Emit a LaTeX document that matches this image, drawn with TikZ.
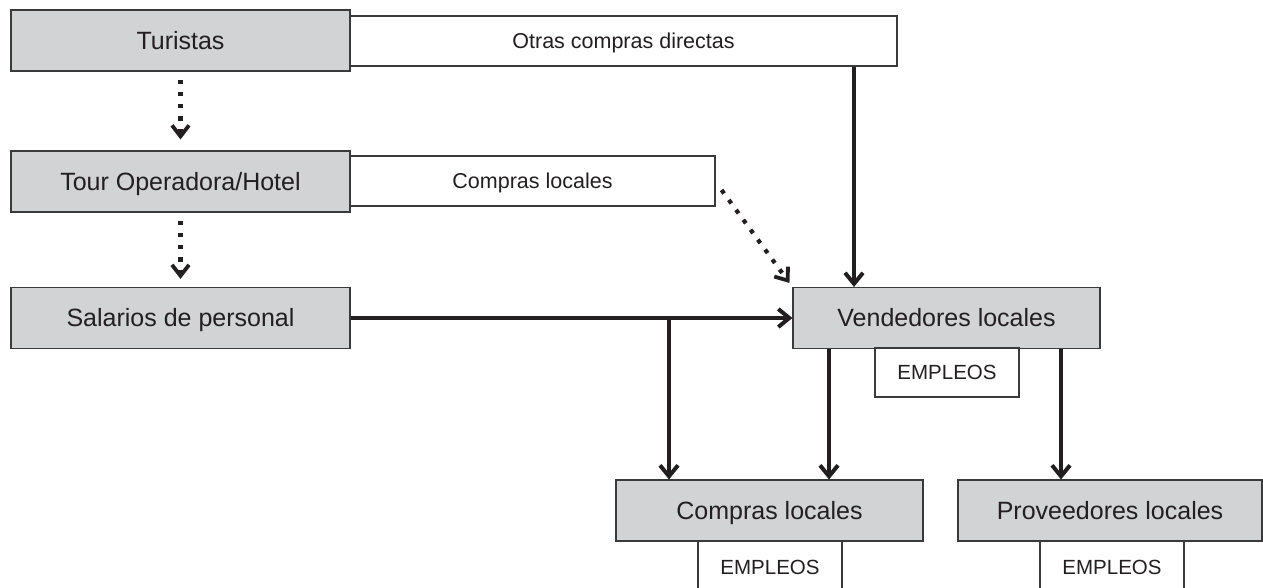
\documentclass[tikz,border=0pt]{standalone}
\usepackage{fontspec}
\setmainfont{Liberation Sans}
\usetikzlibrary{arrows.meta}
\definecolor{boxgray}{HTML}{D1D3D4}
\definecolor{edge}{HTML}{3A3A3A}
\definecolor{ink}{HTML}{231F20}
\tikzset{
  basebox/.style={draw=edge, line width=1.1pt, inner sep=0pt, text=ink,
    text depth=0pt},
  graybox/.style={basebox, fill=boxgray, font=\fontsize{25}{30}\selectfont,
    text height=17.9pt},
  whitebox/.style={basebox, fill=white, font=\fontsize{21.5}{26}\selectfont,
    text height=15.4pt},
  jobbox/.style={basebox, fill=white,
    minimum width=144pt, minimum height=49pt,
    font=\fontsize{20.5}{24}\selectfont, text height=14.7pt},
  arr/.style={draw=ink, line width=4pt,
    -{Straight Barb[length=11pt,width=18pt,line width=4pt]}},
  dotarr/.style={draw=ink, line width=4.2pt, dash pattern=on 4.3pt off 8pt,
    -{Straight Barb[length=11pt,width=17pt,line width=3.8pt]}},
}
\begin{document}
\begin{tikzpicture}[x=1pt,y=-1pt]
\useasboundingbox (0,0) rectangle (1263,587);
\clip (0,0) rectangle (1263,587);
% white side boxes (drawn first, behind gray boxes)
\node[whitebox, minimum width=547pt, minimum height=50pt] (otras) at (623.5,41) {Otras compras directas};
\node[whitebox, minimum width=365pt, minimum height=50pt] (comp1) at (532.5,181) {Compras locales};
% gray boxes
\node[graybox, minimum width=339pt, minimum height=61pt] (tur) at (180.5,40.5) {Turistas};
\node[graybox, minimum width=339pt, minimum height=61pt] (tour) at (180.5,181.5) {Tour Operadora/Hotel};
\node[graybox, minimum width=339pt, minimum height=61pt] (sal) at (180.5,318) {Salarios de personal};
\node[graybox, minimum width=307pt, minimum height=61pt] (vend) at (946.5,318) {Vendedores locales};
\node[graybox, minimum width=307pt, minimum height=61pt] (comp2) at (769.5,510.5) {Compras locales};
\node[graybox, minimum width=304pt, minimum height=61pt] (prov) at (1110,510.5) {Proveedores locales};
% EMPLEOS boxes
\node[jobbox] (jv) at (947,372.5) {EMPLEOS};
\node[jobbox, minimum height=52pt] (jc) at (770,567) {EMPLEOS};
\node[jobbox, minimum height=52pt] (jp) at (1112,567) {EMPLEOS};
% coordinates for connector positions
\coordinate (vtop) at ([xshift=-92.5pt]vend.north);
\coordinate (vbl) at ([xshift=-117.5pt]vend.south);
\coordinate (vbr) at ([xshift=114.5pt]vend.south);
\coordinate (br) at ([xshift=-100.5pt]comp2.north);
% dotted arrows
\draw[dotarr, shorten <=8pt, shorten >=11pt] (tur.south) -- (tour.north);
\draw[dotarr, shorten <=8pt, shorten >=8pt] (tour.south) -- (sal.north);
\draw[dotarr] ([xshift=6pt,yshift=-9pt]comp1.east) -- ([xshift=-3pt,yshift=4pt]vend.north west);
% solid arrows
\draw[arr] (vtop |- otras.south) -- (vtop);
\draw[arr] (sal.east) -- (sal.east -| vend.west);
\draw[arr] (br |- sal.east) -- (br);
\draw[arr] (vbl) -- (vbl |- comp2.north);
\draw[arr] (vbr) -- (vbr |- prov.north);
\end{tikzpicture}
\end{document}
